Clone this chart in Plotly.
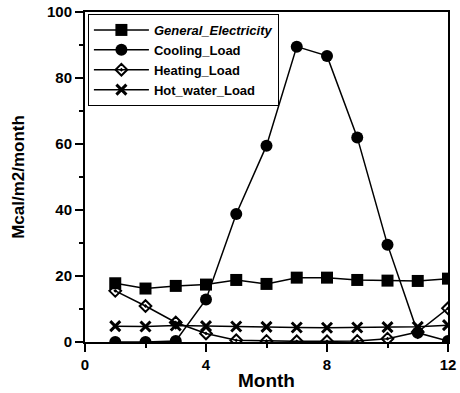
import plotly.graph_objects as go

months = [1, 2, 3, 4, 5, 6, 7, 8, 9, 10, 11, 12]
general_electricity = [17.8, 16.2, 17.0, 17.4, 18.8, 17.6, 19.5, 19.5, 18.8, 18.6, 18.5, 19.2]
cooling_load = [0.0, 0.0, 0.3, 12.9, 38.8, 59.5, 89.5, 86.7, 62.0, 29.5, 2.8, 0.3]
heating_load = [15.5, 10.9, 5.9, 2.6, 0.5, 0.3, 0.2, 0.2, 0.3, 1.0, 3.0, 10.2]
hot_water_load = [4.8, 4.7, 5.0, 4.8, 4.7, 4.6, 4.4, 4.3, 4.4, 4.5, 4.6, 5.1]

x_ticks = [0, 4, 8, 12]
y_ticks = [0, 20, 40, 60, 80, 100]

FONT = "Arial, Liberation Sans, sans-serif"

fig = go.Figure()
fig.add_trace(go.Scatter(
    x=months, y=general_electricity, mode="lines+markers",
    name="<b><i>General_Electricity</i></b>",
    line=dict(color="black", width=1.5),
    marker=dict(symbol="square", size=12, color="black")))
fig.add_trace(go.Scatter(
    x=months, y=cooling_load, mode="lines+markers",
    name="<b>Cooling_Load</b>",
    line=dict(color="black", width=1.5),
    marker=dict(symbol="circle", size=12, color="black")))
fig.add_trace(go.Scatter(
    x=months, y=heating_load, mode="lines+markers",
    name="<b>Heating_Load</b>",
    line=dict(color="black", width=1.5),
    marker=dict(symbol="diamond-open-dot", size=9, color="black",
                line=dict(width=2, color="black"))))
fig.add_trace(go.Scatter(
    x=months, y=hot_water_load, mode="lines+markers",
    name="<b>Hot_water_Load</b>",
    line=dict(color="black", width=1.5),
    marker=dict(symbol="x-thin", size=10, color="black",
                line=dict(width=3, color="black"))))

fig.update_layout(
    width=460, height=393,
    margin=dict(l=85, r=12, t=12, b=51),
    paper_bgcolor="white", plot_bgcolor="white",
    font=dict(family=FONT, color="black"),
    showlegend=True,
    legend=dict(x=0.008, y=0.994, xanchor="left", yanchor="top",
                bgcolor="white", bordercolor="black", borderwidth=1,
                font=dict(size=13, family=FONT, color="black"),
                itemwidth=55, tracegroupgap=0,
                traceorder="normal"),
)
fig.update_xaxes(
    range=[0, 12], tickvals=x_ticks, ticktext=[str(v) for v in x_ticks],
    automargin=False,
    showgrid=False, zeroline=False,
    showline=True, linecolor="black", linewidth=2, mirror=True,
    ticks="outside", ticklen=8, tickwidth=2, tickcolor="black",
    tickfont=dict(size=15, family=FONT, weight="bold"),
    minor=dict(tickvals=[2, 6, 10], ticks="outside", ticklen=4, tickwidth=1.5, tickcolor="black"),
    title=dict(text="<b>Month</b>", font=dict(size=19, family=FONT), standoff=2),
)
fig.update_yaxes(
    range=[0, 100], tickvals=y_ticks, ticktext=[str(v) for v in y_ticks],
    automargin=False,
    showgrid=False, zeroline=False,
    showline=True, linecolor="black", linewidth=2, mirror=True,
    ticks="outside", ticklen=8, tickwidth=2, tickcolor="black",
    tickfont=dict(size=15, family=FONT, weight="bold"),
    minor=dict(tickvals=[10, 30, 50, 70, 90], ticks="outside", ticklen=4, tickwidth=1.5, tickcolor="black"),
    title=dict(text="<b>Mcal/m2/month</b>", font=dict(size=17, family=FONT), standoff=18),
)

fig.write_html("out.html")
